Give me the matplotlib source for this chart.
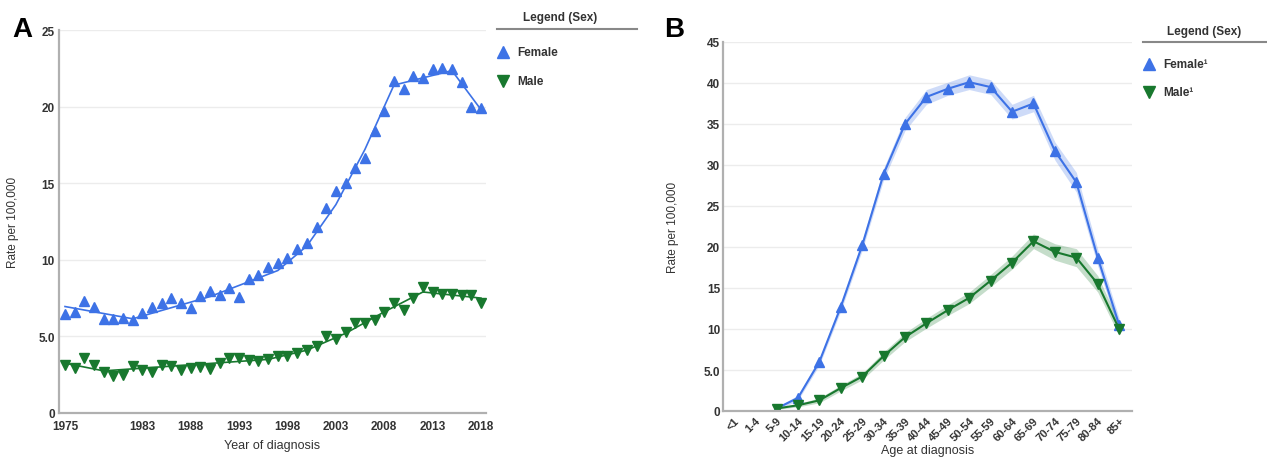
import matplotlib.pyplot as plt
from matplotlib.lines import Line2D

plt.rcParams['font.family'] = ['Liberation Sans', 'DejaVu Sans']

# --- panel A: incidence by year of diagnosis ---
years = list(range(1975, 2019))
female_rate = [6.45, 6.6, 7.3, 6.9, 6.15, 6.15, 6.2, 6.1, 6.5, 6.95,
               7.15, 7.5, 7.15, 6.85, 7.65, 7.95, 7.7, 8.15, 7.6, 8.75,
               9.0, 9.5, 9.8, 10.15, 10.7, 11.1, 12.15, 13.4, 14.5, 15.0,
               16.0, 16.65, 18.4, 19.7, 21.65, 21.15, 22.0, 21.85, 22.45, 22.5,
               22.45, 21.6, 19.95, 19.9]
male_rate = [3.15, 2.95, 3.6, 3.15, 2.7, 2.4, 2.5, 3.05, 2.8, 2.65,
             3.15, 3.1, 2.8, 2.95, 3.0, 2.9, 3.25, 3.6, 3.6, 3.45,
             3.4, 3.55, 3.75, 3.75, 3.9, 4.1, 4.4, 5.0, 4.8, 5.3,
             5.85, 5.9, 6.1, 6.6, 7.15, 6.7, 7.5, 8.2, 7.9, 7.8,
             7.8, 7.7, 7.7, 7.2]

# joinpoint fitted lines (values read at segment points)
female_fit_years = [1975, 1982, 1990, 1997, 2000, 2003, 2006, 2009, 2015, 2018]
female_fit = [6.95, 6.15, 7.6, 9.3, 10.9, 13.6, 17.2, 21.4, 22.35, 19.8]
male_fit_years = [1975, 1979, 1996, 2000, 2004, 2008, 2012, 2018]
male_fit = [3.25, 2.75, 3.5, 4.1, 5.2, 6.6, 7.9, 7.5]

year_ticks = [1975, 1983, 1988, 1993, 1998, 2003, 2008, 2013, 2018]
a_yticks = [0, 5, 10, 15, 20, 25]
a_yticklabels = ['0', '5.0', '10', '15', '20', '25']

# --- panel B: incidence by age at diagnosis ---
age_groups = ['<1', '1-4', '5-9', '10-14', '15-19', '20-24', '25-29', '30-34',
              '35-39', '40-44', '45-49', '50-54', '55-59', '60-64', '65-69',
              '70-74', '75-79', '80-84', '85+']
first_age_idx = 2  # no cases below 5-9
female_age = [0.3, 1.6, 6.0, 12.7, 20.2, 28.9, 35.0, 38.3, 39.3, 40.1,
              39.5, 36.5, 37.5, 31.7, 27.9, 18.7, 10.5]
female_lo = [0.1, 1.3, 5.6, 12.2, 19.6, 28.2, 34.2, 37.4, 38.5, 39.2,
             38.6, 35.6, 36.5, 30.6, 26.7, 17.7, 9.7]
female_hi = [0.5, 1.9, 6.4, 13.2, 20.8, 29.6, 35.8, 39.2, 40.1, 41.0,
             40.4, 37.4, 38.5, 32.8, 29.1, 19.7, 11.3]
male_age = [0.3, 0.7, 1.3, 2.8, 4.2, 6.7, 9.0, 10.7, 12.3, 13.8,
            15.9, 18.1, 20.7, 19.4, 18.7, 15.5, 10.0]
male_lo = [0.2, 0.5, 1.0, 2.45, 3.8, 6.2, 8.45, 10.1, 11.65, 13.1,
           15.15, 17.3, 19.8, 18.4, 17.6, 14.5, 9.2]
male_hi = [0.4, 0.9, 1.6, 3.15, 4.6, 7.2, 9.55, 11.3, 12.95, 14.5,
           16.65, 18.9, 21.6, 20.4, 19.8, 16.5, 10.8]
b_yticks = [0, 5, 10, 15, 20, 25, 30, 35, 40, 45]
b_yticklabels = ['0', '5.0', '10', '15', '20', '25', '30', '35', '40', '45']

blue = '#3d72e6'
green = '#18782e'
text_col = '#333333'

fig = plt.figure(figsize=(12.67, 4.6), dpi=100)
W, H = 1267, 460


def px_axes(left, top, right, bottom):
    return fig.add_axes([left / W, 1 - bottom / H, (right - left) / W, (bottom - top) / H])


def style_axes(ax):
    for s in ['top', 'right']:
        ax.spines[s].set_visible(False)
    for s in ['left', 'bottom']:
        ax.spines[s].set_color('#b0b0b0')
        ax.spines[s].set_linewidth(1.6)
    ax.grid(axis='y', color='#ececec', linewidth=1)
    ax.set_axisbelow(True)
    ax.tick_params(length=0, pad=2, labelsize=8.5, labelcolor=text_col)
    for lab in ax.get_xticklabels() + ax.get_yticklabels():
        lab.set_fontweight('bold')


# panel A
axA = px_axes(59, 31, 486, 414)
axA.plot(female_fit_years, female_fit, color=blue, lw=1.2)
axA.plot(male_fit_years, male_fit, color=green, lw=1.2)
axA.plot(years, female_rate, ls='none', marker='^', ms=7.5, color=blue)
axA.plot(years, male_rate, ls='none', marker='v', ms=7.5, color=green)
axA.set_xlim(1974.38, 2018.52)
axA.set_ylim(0, 25)
axA.set_xticks(year_ticks)
axA.set_yticks(a_yticks)
axA.set_yticklabels(a_yticklabels)
style_axes(axA)
axA.tick_params(axis='x', pad=5)
axA.tick_params(axis='y', pad=3)
axA.set_xlabel('Year of diagnosis', fontsize=9, color=text_col, labelpad=5)
axA.set_ylabel('Rate per 100,000', fontsize=8.5, color=text_col, labelpad=14)

# panel B
axB = px_axes(723, 43, 1132, 412)
x_idx = list(range(first_age_idx, len(age_groups)))
axB.fill_between(x_idx, female_lo, female_hi, color=blue, alpha=0.25, lw=0)
axB.fill_between(x_idx, male_lo, male_hi, color=green, alpha=0.25, lw=0)
axB.plot(x_idx, female_age, color=blue, lw=1.5, marker='^', ms=7)
axB.plot(x_idx, male_age, color=green, lw=1.5, marker='v', ms=7)
axB.set_xlim(-0.5, len(age_groups) - 0.4)
axB.set_ylim(0, 45)
axB.set_xticks(range(len(age_groups)))
axB.set_xticklabels(age_groups, rotation=45, ha='right', rotation_mode='anchor')
axB.set_yticks(b_yticks)
axB.set_yticklabels(b_yticklabels)
style_axes(axB)
axB.tick_params(axis='x', pad=3, labelsize=8)
axB.set_xlabel('Age at diagnosis', fontsize=9, color=text_col, labelpad=1)
axB.set_ylabel('Rate per 100,000', fontsize=8.5, color=text_col, labelpad=18)

# panel letters
fig.text(22 / W, 1 - 30 / H, 'A', fontsize=20, fontweight='bold', ha='center', va='center')
fig.text(674 / W, 1 - 30 / H, 'B', fontsize=20, fontweight='bold', ha='center', va='center')


def draw_legend(cx, ty, x0, x1, ly, mx, tx, rows, labels):
    fig.text(cx / W, 1 - ty / H, 'Legend (Sex)', fontsize=8.5, fontweight='bold',
             color=text_col, ha='center', va='center')
    fig.add_artist(Line2D([x0 / W, x1 / W], [1 - ly / H, 1 - ly / H],
                          color='#888888', lw=1.5))
    for (y, m, c), lab in zip(rows, labels):
        fig.add_artist(Line2D([mx / W], [1 - y / H], ls='none', marker=m, ms=8, color=c))
        fig.text(tx / W, 1 - y / H, lab, fontsize=8.5, fontweight='bold',
                 color=text_col, ha='left', va='center')


draw_legend(560, 18, 497, 637, 30, 503, 517,
            [(53, '^', blue), (82, 'v', green)], ['Female', 'Male'])
draw_legend(1204, 32, 1143, 1267, 43, 1149, 1163,
            [(65, '^', blue), (93, 'v', green)], ['Female\u00b9', 'Male\u00b9'])

fig.savefig('out.png', dpi=100)
